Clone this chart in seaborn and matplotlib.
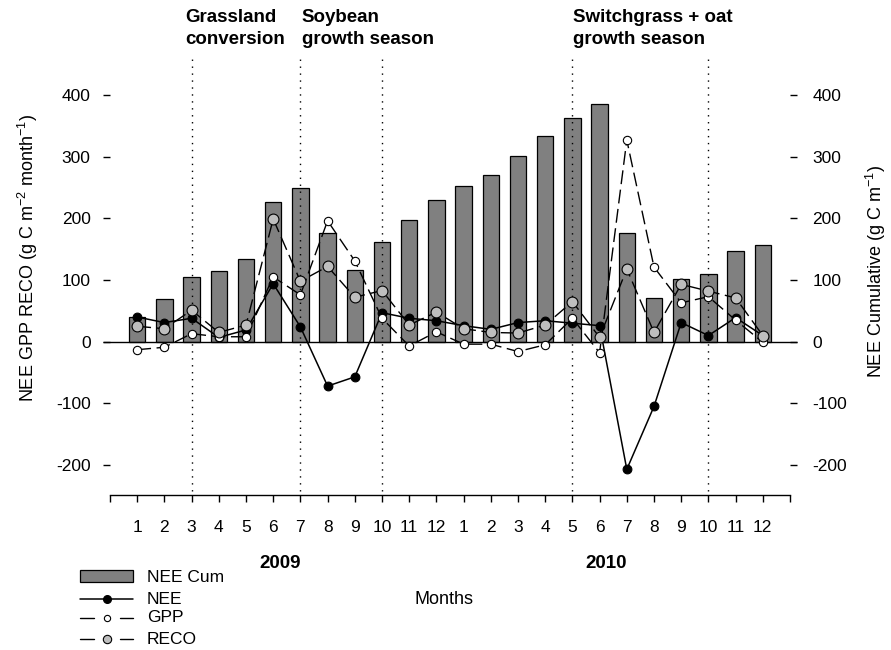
import numpy as np
import pandas as pd
import matplotlib
matplotlib.use("Agg")
import matplotlib.pyplot as plt
from matplotlib.lines import Line2D
from matplotlib.patches import Rectangle
import seaborn as sns

# ---------------- data ----------------
month_labels = ["1", "2", "3", "4", "5", "6", "7", "8", "9", "10", "11", "12",
                "1", "2", "3", "4", "5", "6", "7", "8", "9", "10", "11", "12"]
years = ["2009", "2010"]
nee_cum = [40, 69, 105, 115, 134, 226, 249, 176, 117, 162, 197, 229,
           253, 271, 301, 334, 362, 386, 177, 71, 101, 110, 147, 157]
nee = [40, 31, 38, 7, 19, 94, 24, -72, -57, 47, 38, 34,
       26, 20, 31, 34, 30, 26, -207, -105, 31, 10, 39, 10]
gpp = [-13, -9, 13, 8, 8, 105, 76, 196, 131, 38, -7, 16,
       -4, -4, -16, -5, 38, -18, 327, 121, 63, 73, 35, -1]
reco = [25, 21, 51, 15, 27, 199, 98, 122, 72, 83, 27, 48,
        21, 15, 14, 27, 65, 7, 118, 15, 93, 82, 71, 10]
event_months = [3, 7, 10, 17, 22]
event_texts = [("Grassland", "conversion"), ("Soybean", "growth season"),
               ("Switchgrass + oat", "growth season")]
yticks = [-200, -100, 0, 100, 200, 300, 400]

pos = np.arange(1, len(nee_cum) + 1)
df = pd.DataFrame({"pos": pos, "nee_cum": nee_cum, "nee": nee, "gpp": gpp, "reco": reco})

# ---------------- style ----------------
sns.set_style("white")
plt.rcParams["font.family"] = ["Liberation Sans", "DejaVu Sans"]
plt.rcParams["mathtext.default"] = "regular"
plt.rcParams["text.color"] = "black"
plt.rcParams["axes.labelcolor"] = "black"
plt.rcParams["xtick.color"] = "black"
plt.rcParams["ytick.color"] = "black"

W, H = 891, 650
fig = plt.figure(figsize=(W / 100, H / 100), dpi=100)

def fx(px):
    return px / W

def fy(py):
    return 1 - py / H

ax = fig.add_axes([fx(110), fy(495), (790 - 110) / W, (495 - 50) / H])

# bars
sns.barplot(data=df, x="pos", y="nee_cum", native_scale=True, width=0.6,
            color="#808080", saturation=1, edgecolor="black", linewidth=0.9,
            ax=ax, zorder=1)

# lines
sns.lineplot(data=df, x="pos", y="nee", color="black", lw=1.1, marker="o",
             markersize=6.3, markerfacecolor="black", markeredgecolor="black",
             markeredgewidth=0.8, errorbar=None, ax=ax, zorder=3)
sns.lineplot(data=df, x="pos", y="gpp", color="black", lw=1.0,
             linestyle=(0, (10, 4)), marker="o", markersize=6.0,
             markerfacecolor="white", markeredgecolor="black",
             markeredgewidth=0.8, errorbar=None, ax=ax, zorder=4)
sns.lineplot(data=df, x="pos", y="reco", color="black", lw=1.0,
             linestyle=(0, (10, 4)), marker="o", markersize=7.8,
             markerfacecolor="#BEBEBE", markeredgecolor="black",
             markeredgewidth=0.8, errorbar=None, ax=ax, zorder=5)

ax.set_xlim(0, 25)
ax.set_ylim(-248.6, 473)

# zero line
ax.hlines(0, -0.26, 25.26, color="black", lw=1.0, clip_on=False, zorder=2)

# event dotted lines
for m in event_months:
    ax.axvline(m, ymin=0.01, ymax=0.985, color="black", lw=1.0,
               linestyle=(0, (1, 4)), zorder=1.5)

# spines / ticks
for s in ["top", "left", "right"]:
    ax.spines[s].set_visible(False)
ax.spines["bottom"].set_color("black")
ax.spines["bottom"].set_linewidth(1.0)

ax.set_xticks(np.arange(0, 26))
ax.set_xticklabels([""] + month_labels + [""])
ax.tick_params(axis="x", direction="out", length=5, width=1, pad=13,
               labelsize=12.5, colors="black", bottom=True)
ax.set_yticks(yticks)
ax.set_yticklabels([str(v) for v in yticks])
ax.tick_params(axis="y", direction="out", length=5, width=1, pad=9,
               labelsize=12.5, colors="black", left=True)
ax.set_xlabel("")
ax.set_ylabel("")
ax.grid(False)

ax2 = ax.twinx()
ax2.set_ylim(ax.get_ylim())
ax2.set_yticks(yticks)
ax2.set_yticklabels([str(v) for v in yticks])
ax2.tick_params(axis="y", direction="out", length=5, width=1, pad=11,
                labelsize=12.5, colors="black", right=True)
for s in ["top", "left", "right", "bottom"]:
    ax2.spines[s].set_visible(False)
ax2.grid(False)

# axis labels
fig.text(fx(28), fy(258), "NEE GPP RECO (g C m$^{-2}$ month$^{-1}$)",
         rotation=90, ha="center", va="center", fontsize=13, color="black")
fig.text(fx(876), fy(272), "NEE Cumulative (g C m$^{-1}$)",
         rotation=90, ha="center", va="center", fontsize=13, color="black")

# year labels and x title
fig.text(fx(280), fy(563), years[0], ha="center", va="center",
         fontsize=13.5, fontweight="bold", color="black")
fig.text(fx(606), fy(563), years[1], ha="center", va="center",
         fontsize=13.5, fontweight="bold", color="black")
fig.text(fx(444), fy(599), "Months", ha="center", va="center", fontsize=13,
         color="black")

# event annotations
ann_x = [185, 301.5, 573]
for (l1, l2), xp in zip(event_texts, ann_x):
    fig.text(fx(xp), fy(18), l1, ha="left", va="center", fontsize=13.5,
             fontweight="bold", color="black")
    fig.text(fx(xp), fy(39), l2, ha="left", va="center", fontsize=13.5,
             fontweight="bold", color="black")

# legend (manual)
fig.add_artist(Rectangle((fx(80), fy(582)), (133 - 80) / W, 12 / H,
                         transform=fig.transFigure, facecolor="#808080",
                         edgecolor="black", lw=0.9))
leg_rows = [(577, "NEE Cum"), (599, "NEE"), (618, "GPP"), (639, "RECO")]
for yp, lab in leg_rows:
    fig.text(fx(147), fy(yp), lab, ha="left", va="center", fontsize=12.5,
             color="black")
# NEE
fig.add_artist(Line2D([fx(80), fx(133)], [fy(599), fy(599)], color="black",
                      lw=1.1, transform=fig.transFigure))
fig.add_artist(Line2D([fx(107)], [fy(599)], marker="o", markersize=5.5,
                      color="black", transform=fig.transFigure))
# GPP / RECO
for yp, fc, ms in [(618, "white", 4.5), (639, "#BEBEBE", 6.0)]:
    fig.add_artist(Line2D([fx(80), fx(94)], [fy(yp), fy(yp)], color="black",
                          lw=1.0, transform=fig.transFigure))
    fig.add_artist(Line2D([fx(120), fx(133)], [fy(yp), fy(yp)], color="black",
                          lw=1.0, transform=fig.transFigure))
    fig.add_artist(Line2D([fx(107)], [fy(yp)], marker="o", markersize=ms,
                          markerfacecolor=fc, markeredgecolor="black",
                          markeredgewidth=0.8, linestyle="none",
                          transform=fig.transFigure))

fig.savefig("out.png", dpi=100)
